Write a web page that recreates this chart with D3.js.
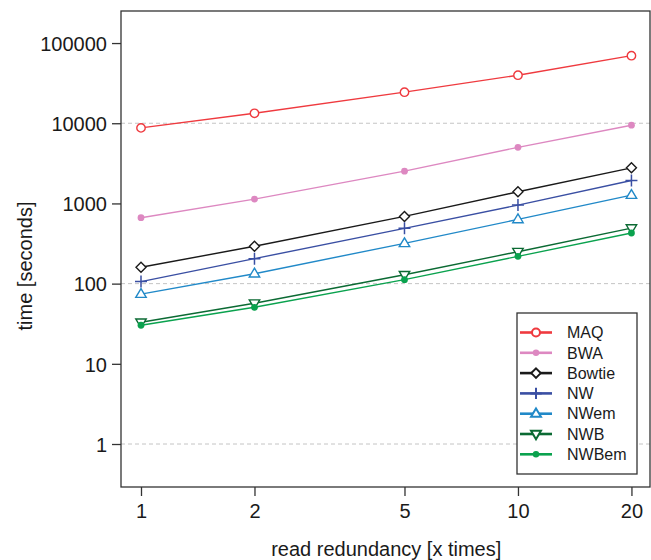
<!DOCTYPE html>
<html>
<head>
<meta charset="utf-8">
<script src="https://cdn.jsdelivr.net/npm/d3@7"></script>
<style>
  body { margin: 0; background: #fff; }
  text { font-family: "Liberation Sans", Arial, sans-serif; fill: #1a1a1a; }
</style>
</head>
<body>
<div id="chart"></div>
<script>
var redundancy = [1, 2, 5, 10, 20];
var xTicks = [1, 2, 5, 10, 20];
var yTicks = [1, 10, 100, 1000, 10000, 100000];
var gridValues = [1, 100, 10000];

var maq    = [8750, 13300, 24400, 39700, 69600];
var bwa    = [664, 1132, 2525, 5010, 9450];
var bowtie = [160, 292, 689, 1397, 2780];
var nw     = [106, 205, 489, 953, 1930];
var nwem   = [74, 133, 318, 632, 1270];
var nwb    = [33, 57, 129, 250, 493];
var nwbem  = [30.3, 50.7, 112, 219, 428];

var seriesNames = ["MAQ", "BWA", "Bowtie", "NW", "NWem", "NWB", "NWBem"];
var seriesValues = [maq, bwa, bowtie, nw, nwem, nwb, nwbem];
var seriesColors = ["#ef3a3f", "#dd88c1", "#1a1a1a", "#3a4fa3", "#2189c8", "#0b6a33", "#0aa24e"];
var seriesMarkers = ["circle", "dot", "diamond", "plus", "triUp", "triDown", "dot"];

var W = 651, H = 560;
var margin = { top: 11, right: 1, bottom: 73, left: 121 };
var width = W - margin.left - margin.right,
    height = H - margin.top - margin.bottom;

var svg = d3.select("#chart").append("svg")
    .attr("width", W).attr("height", H);
var g = svg.append("g")
    .attr("transform", "translate(" + margin.left + "," + margin.top + ")");

var x = d3.scaleLog().domain([0.885, 22.4]).range([0, width]);
var y = d3.scaleLog().domain([0.291, 251000]).range([height, 0]);

// dashed grid lines every other decade
g.selectAll(".grid")
    .data(gridValues)
    .enter().append("line")
    .attr("x1", 0).attr("x2", width)
    .attr("y1", function (d) { return y(d); })
    .attr("y2", function (d) { return y(d); })
    .style("stroke", "#c4c4c4")
    .style("stroke-width", 1)
    .style("stroke-dasharray", "4,3");

// axes
var xAxis = g.append("g")
    .attr("transform", "translate(0," + height + ")")
    .call(d3.axisBottom(x).tickValues(xTicks).tickFormat(d3.format("d")).tickSize(9).tickPadding(8));
var yAxis = g.append("g")
    .call(d3.axisLeft(y).tickValues(yTicks).tickFormat(d3.format("d")).tickSize(9).tickPadding(5));

[xAxis, yAxis].forEach(function (a) {
    a.select(".domain").remove();
    a.selectAll(".tick line").style("stroke", "#333").style("stroke-width", 1.3);
    a.selectAll(".tick text").style("font-size", "20px").style("fill", "#1a1a1a");
});
yAxis.selectAll(".tick text").attr("dy", "0.36em");

// box
g.append("rect")
    .attr("width", width).attr("height", height)
    .style("fill", "none").style("stroke", "#333").style("stroke-width", 1.3);

// axis titles
svg.append("text")
    .attr("x", margin.left + x(Math.sqrt(20))).attr("y", 556)
    .attr("text-anchor", "middle")
    .style("font-size", "20px")
    .text("read redundancy [x times]");
svg.append("text")
    .attr("transform", "translate(32," + (margin.top + height / 2 + 17) + ") rotate(-90)")
    .attr("text-anchor", "middle")
    .style("font-size", "20px")
    .text("time [seconds]");

function drawMarker(sel, type, color, s) {
    if (type === "circle") {
        sel.append("circle").attr("r", 4.2 * s)
            .style("fill", "#fff").style("stroke", color).style("stroke-width", 1.4);
    } else if (type === "dot") {
        sel.append("circle").attr("r", 3.4 * s).style("fill", color);
    } else if (type === "diamond") {
        var r = 5 * s;
        sel.append("path").attr("d", "M0," + (-r) + "L" + r + ",0L0," + r + "L" + (-r) + ",0Z")
            .style("fill", "#fff").style("stroke", color).style("stroke-width", 1.4);
    } else if (type === "plus") {
        var p = 6 * s;
        sel.append("path").attr("d", "M" + (-p) + ",0H" + p + "M0," + (-p) + "V" + p)
            .style("stroke", color).style("stroke-width", 1.5);
    } else if (type === "triUp") {
        var t = 5.5 * s;
        sel.append("path").attr("d", "M0," + (-t) + "L" + (t * 0.95) + "," + (t * 0.6) + "L" + (-t * 0.95) + "," + (t * 0.6) + "Z")
            .style("fill", "#fff").style("stroke", color).style("stroke-width", 1.4);
    } else if (type === "triDown") {
        var u = 5.5 * s;
        sel.append("path").attr("d", "M0," + u + "L" + (u * 0.95) + "," + (-u * 0.6) + "L" + (-u * 0.95) + "," + (-u * 0.6) + "Z")
            .style("fill", "#fff").style("stroke", color).style("stroke-width", 1.4);
    }
}

var line = d3.line()
    .x(function (d) { return x(d[0]); })
    .y(function (d) { return y(d[1]); });

seriesValues.forEach(function (vals, i) {
    var pts = redundancy.map(function (r, j) { return [r, vals[j]]; });
    var sg = g.append("g");
    sg.append("path")
        .datum(pts)
        .attr("d", line)
        .style("fill", "none")
        .style("stroke", seriesColors[i])
        .style("stroke-width", 1.4);
    sg.selectAll(".pt")
        .data(pts)
        .enter().append("g")
        .attr("transform", function (d) { return "translate(" + x(d[0]) + "," + y(d[1]) + ")"; })
        .each(function () { drawMarker(d3.select(this), seriesMarkers[i], seriesColors[i], 1); });
});

// legend
var legend = svg.append("g").attr("transform", "translate(517,313)");
legend.append("rect")
    .attr("width", 120).attr("height", 161)
    .style("fill", "#fff").style("stroke", "#333").style("stroke-width", 1.3);
seriesNames.forEach(function (name, i) {
    var row = legend.append("g").attr("transform", "translate(0," + (19.5 + i * 20.3) + ")");
    row.append("line")
        .attr("x1", 3).attr("x2", 35)
        .style("stroke", seriesColors[i]).style("stroke-width", 2.6);
    var m = row.append("g").attr("transform", "translate(19,0)");
    drawMarker(m, seriesMarkers[i], seriesColors[i], 0.95);
    m.selectAll("*").style("stroke-width", 2);
    row.append("text")
        .attr("x", 50).attr("y", 0).attr("dy", "0.36em")
        .style("font-size", "16px")
        .text(name);
});
</script>
</body>
</html>
